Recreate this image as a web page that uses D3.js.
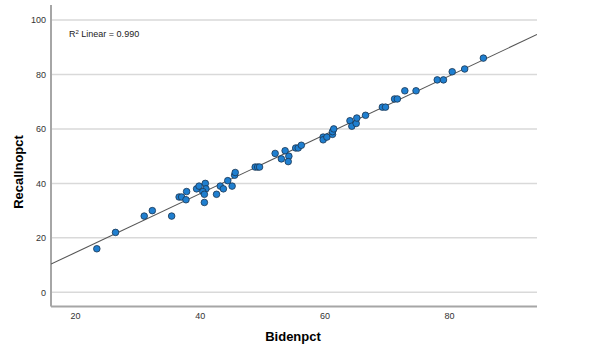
<html lang="en">
<head>
  <script src="https://d3js.org/d3.v7.min.js"></script>
  <style>
    body { margin: 0; background: #fff; }
    .grid line { stroke: #d9d9d9; stroke-width: 1.5px; }
    .axis path { stroke: #a6a6a6; stroke-width: 2px; }
    .axis text { font-family: "Liberation Sans", Arial, sans-serif; font-size: 9px; fill: #333; }
    .title { font-family: "Liberation Sans", Arial, sans-serif; font-size: 13px; font-weight: bold; fill: #000; }
    .dot { fill: #1f7fd0; stroke: #1a3550; stroke-width: 0.8px; }
    .fit { stroke: #555; stroke-width: 1.1px; fill: none; }
  </style>
</head>
<body>
  <svg width="599" height="353" id="chart"></svg>
  <script>
    // data
    let bidenpct = [23.5, 26.5, 31.1, 32.4, 35.5, 36.7, 37.1, 37.8, 37.9, 39.5,
      39.9, 40.9, 41.0, 40.5, 40.75, 40.75, 42.7, 43.3, 43.8, 44.5,
      45.2, 45.6, 45.7, 48.9, 49.3, 49.6, 52.1, 53.1, 53.7, 54.3,
      54.2, 55.4, 55.8, 56.3, 59.8, 59.8, 60.4, 61.3, 61.3, 61.5,
      64.1, 64.4, 65.1, 65.2, 66.6, 69.3, 69.8, 71.25, 71.7, 72.9,
      74.7, 78.1, 79.1, 80.5, 82.5, 85.5];
    let recallnopct = [16, 22, 28, 30, 28, 35, 35, 34, 37, 38,
      39, 40, 38, 37, 36, 33, 36, 39, 38, 41,
      39, 43, 44, 46, 46, 46, 51, 49, 52, 50,
      48, 53, 53, 54, 57, 56, 57, 58, 59, 60,
      63, 61, 62, 64, 65, 68, 68, 71, 71, 74,
      74, 78, 78, 81, 82, 86];
    let xTicks = [20, 40, 60, 80];
    let yTicks = [0, 20, 40, 60, 80, 100];
    let r2Label = "0.990";

    let svg = d3.select("svg#chart");
    let plot = { left: 51, right: 537, top: 5, bottom: 306.5 };

    let x = d3.scaleLinear().domain([16.15, 94.1]).range([plot.left, plot.right]);
    let y = d3.scaleLinear().domain([-5.2, 105.5]).range([plot.bottom, plot.top]);

    // gridlines
    svg.append("g")
      .attr("class", "grid")
      .selectAll("line").data(yTicks).enter()
      .append("line")
      .attr("x1", plot.left).attr("x2", plot.right)
      .attr("y1", d => y(d)).attr("y2", d => y(d));

    // axes
    let yAxis = svg.append("g")
      .attr("class", "axis")
      .attr("transform", "translate(" + plot.left + ",0)")
      .call(d3.axisLeft(y).tickValues(yTicks).tickSize(0).tickPadding(5));
    yAxis.select(".domain").attr("d", "M0," + plot.top + "V" + plot.bottom);

    let xAxis = svg.append("g")
      .attr("class", "axis")
      .attr("transform", "translate(0," + plot.bottom + ")")
      .call(d3.axisBottom(x).tickValues(xTicks).tickSize(0).tickPadding(6));
    xAxis.select(".domain").attr("d", "M" + plot.left + ",0H" + plot.right);

    // least squares fit line
    let mx = d3.mean(bidenpct), my = d3.mean(recallnopct);
    let sxy = d3.sum(bidenpct, (d, i) => (d - mx) * (recallnopct[i] - my));
    let sxx = d3.sum(bidenpct, d => (d - mx) * (d - mx));
    let slope = sxy / sxx, icpt = my - slope * mx;
    let xd = x.domain();

    svg.append("clipPath").attr("id", "clip")
      .append("rect").attr("x", plot.left).attr("y", plot.top)
      .attr("width", plot.right - plot.left).attr("height", plot.bottom - plot.top);

    svg.append("line")
      .attr("class", "fit")
      .attr("clip-path", "url(#clip)")
      .attr("x1", x(xd[0])).attr("y1", y(icpt + slope * xd[0]))
      .attr("x2", x(xd[1])).attr("y2", y(icpt + slope * xd[1]));

    // points
    svg.append("g").selectAll("circle").data(bidenpct).enter()
      .append("circle")
      .attr("class", "dot")
      .attr("cx", d => x(d))
      .attr("cy", (d, i) => y(recallnopct[i]))
      .attr("r", 3.3);

    // R2 label
    let r2 = svg.append("text")
      .attr("x", 69).attr("y", 37)
      .attr("font-family", "Liberation Sans, Arial, sans-serif")
      .attr("font-size", "9px").attr("fill", "#222");
    r2.append("tspan").text("R");
    r2.append("tspan").attr("dy", -3).attr("font-size", "6px").text("2");
    r2.append("tspan").attr("dy", 3).text(" Linear = " + r2Label);

    // axis titles
    svg.append("text").attr("class", "title")
      .attr("x", 293).attr("y", 341)
      .attr("text-anchor", "middle").text("Bidenpct");
    svg.append("text").attr("class", "title")
      .attr("transform", "translate(23,172) rotate(-90)")
      .attr("text-anchor", "middle").text("Recallnopct");
  </script>
</body>
</html>
